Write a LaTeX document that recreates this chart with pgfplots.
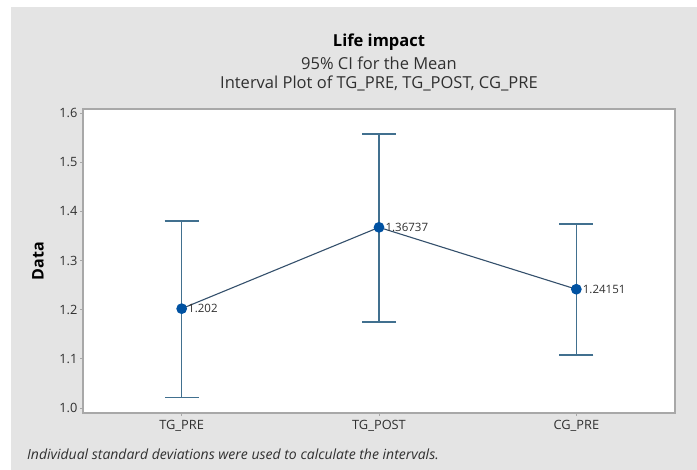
\documentclass[border=0pt]{standalone}
\usepackage{pgfplots}
\pgfplotsset{compat=1.18}
\usepackage{pgfplotstable}
\usepackage{fontspec}
\setmainfont{Open Sans}
\definecolor{bgpanel}{HTML}{E4E4E4}
\definecolor{framec}{HTML}{A8A8A8}
\definecolor{errc}{HTML}{41708F}
\definecolor{linec}{HTML}{34506C}
\definecolor{markc}{HTML}{0052A2}
\definecolor{txtc}{HTML}{303030}
\pgfplotstableread{
x y ep em lab
0 1.20200 0.1786 0.1803 1.202
1 1.36737 0.1898 0.1925 1.36737
2 1.24151 0.1328 0.1335 1.24151
}\ci
\begin{document}
\begin{tikzpicture}
\fill[white] (0pt,0pt) rectangle (697pt,470pt);
\fill[bgpanel] (11pt,0pt) rectangle (697pt,463pt);
\node[font=\bfseries\fontsize{16.5}{16.5}\selectfont, text=black] at (379pt,428pt) {Life impact};
\node[font=\fontsize{16.5}{16.5}\selectfont, text=txtc] at (379pt,407pt) {95\% CI for the Mean};
\node[font=\fontsize{16.5}{16.5}\selectfont, text=txtc] at (379pt,387pt) {Interval Plot of TG\_PRE, TG\_POST, CG\_PRE};
\node[font=\itshape\fontsize{14}{14}\selectfont, text=txtc, anchor=west, inner sep=0pt] at (27pt,16pt) {Individual standard deviations were used to calculate the intervals.};
\node[font=\bfseries\fontsize{16}{16}\selectfont, text=black, rotate=90] at (38pt,209pt) {Data};
\begin{axis}[
  at={(83pt,57pt)}, anchor=south west,
  scale only axis, width=592pt, height=304pt,
  xmin=-0.5, xmax=2.5, ymin=0.9898, ymax=1.6081,
  xtick={0,1,2}, xticklabels={TG\_PRE,TG\_POST,CG\_PRE},
  ytick={1.0,1.1,1.2,1.3,1.4,1.5,1.6},
  yticklabel style={xshift=1pt, /pgf/number format/.cd, fixed, fixed zerofill, precision=1, assume math mode=true},
  ticklabel style={font=\fontsize{12.8}{12.8}\selectfont, text=txtc},
  tick pos=left, tick align=outside, major tick length=3pt,
  tick style={color=framec, line width=0.8pt},
  axis line style={color=framec, line width=1.2pt},
  axis background/.style={fill=white},
  xticklabel style={yshift=-1pt},
  clip=false,
]
\addplot[draw=none, mark=none, forget plot,
  error bars/.cd, y dir=both, y explicit,
  error bar style={color=errc, line width=1.4pt},
  error mark options={color=errc, line width=1.4pt, mark size=17pt, rotate=90}]
  table[x=x, y=y, y error plus=ep, y error minus=em] {\ci};
\addplot[color=linec, line width=1.1pt, mark=*, mark size=4.8pt,
  mark options={fill=markc, draw=markc},
  nodes near coords, point meta=explicit symbolic,
  nodes near coords style={anchor=west, xshift=6pt, inner sep=0pt, font=\fontsize{11.5}{11.5}\selectfont, text=txtc}]
  table[x=x, y=y, meta=lab] {\ci};
\end{axis}
\end{tikzpicture}
\end{document}
